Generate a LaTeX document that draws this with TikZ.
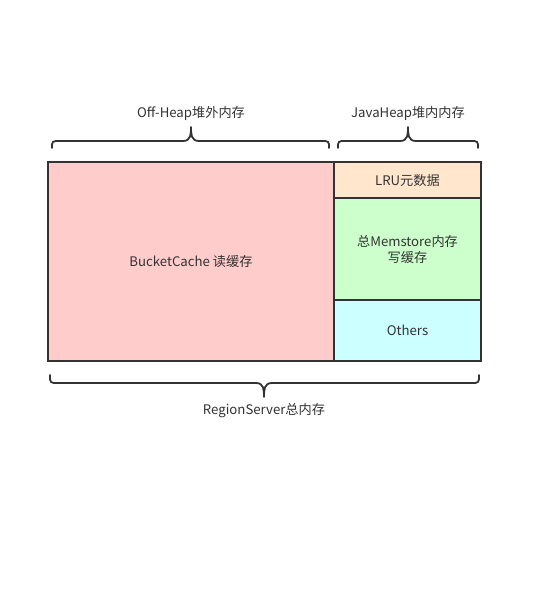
\documentclass[tikz,border=0pt]{standalone}
\usepackage{fontspec}
\setmainfont{Noto Sans CJK SC}
\begin{document}
\begin{tikzpicture}[x=1pt,y=-1pt,
  box/.style={draw=boxline,line width=1.6pt,inner sep=0pt,font=\fontsize{13.2}{16}\selectfont,text=txt,align=center},
  lbl/.style={font=\fontsize{13.2}{16}\selectfont,text=txt,inner sep=0pt},
  brace/.style={draw=boxline,line width=1.8pt,line cap=round,line join=round}]
\definecolor{boxline}{HTML}{333333}
\definecolor{txt}{HTML}{333333}
\definecolor{pinkc}{HTML}{FFCCCC}
\definecolor{peachc}{HTML}{FFE6CC}
\definecolor{greenc}{HTML}{CCFFCC}
\definecolor{cyanc}{HTML}{CCFFFF}
\useasboundingbox[fill=white] (0,0) rectangle (550,603);
% boxes
\node[box,fill=pinkc,minimum width=286pt,minimum height=199pt] (bucket) at (191,261.5) {BucketCache 读缓存};
\node[box,fill=peachc,minimum width=147pt,minimum height=36pt] (lru) at (407.5,180) {LRU元数据};
\node[box,fill=greenc,minimum width=147pt,minimum height=102pt] (mem) at (407.5,249) {总Memstore内存\\写缓存};
\node[box,fill=cyanc,minimum width=147pt,minimum height=61pt] (others) at (407.5,330.5) {Others};
% labels
\node[lbl] (offheap) at (191,113) {Off-Heap堆外内存};
\node[lbl] (javaheap) at (408,113) {JavaHeap堆内内存};
\node[lbl] (rs) at (264,411) {RegionServer总内存};
% braces
\path[brace] (52,148) .. controls (52,141) .. (60,141) -- (183,141) .. controls (191,141) and (191,134) .. (191,127)
  .. controls (191,134) and (191,141) .. (199,141) -- (321,141) .. controls (329,141) .. (329,148);
\path[brace] (338,148) .. controls (338,141) .. (346,141) -- (400,141) .. controls (408,141) and (408,134) .. (408,127)
  .. controls (408,134) and (408,141) .. (416,141) -- (470,141) .. controls (478,141) .. (478,148);
\path[brace] (50,375) .. controls (50,383) .. (58,383) -- (256,383) .. controls (264,383) and (264,390) .. (264,397)
  .. controls (264,390) and (264,383) .. (272,383) -- (471,383) .. controls (479,383) .. (479,375);
\end{tikzpicture}
\end{document}
